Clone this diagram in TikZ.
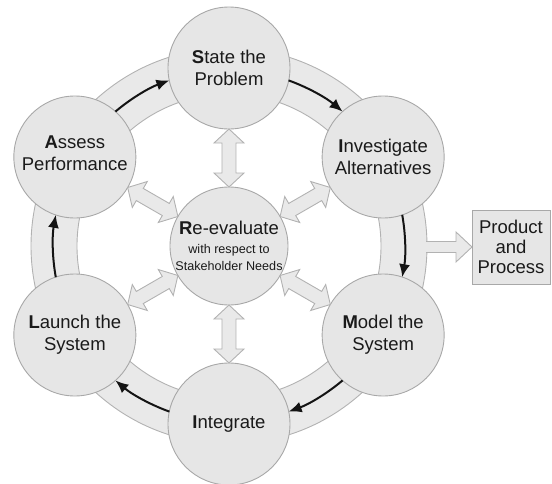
\documentclass[tikz,border=0pt]{standalone}
\usepackage{fontspec}
\setmainfont{Liberation Sans}
\usetikzlibrary{arrows.meta}
\definecolor{cfill}{HTML}{E6E6E6}
\definecolor{cline}{HTML}{A8A8A8}
\definecolor{afill}{HTML}{E9E9E9}
\definecolor{aline}{HTML}{B2B2B2}
\definecolor{txt}{HTML}{1A1A1A}
\begin{document}
\begin{tikzpicture}[x=1pt,y=1pt,
  stage/.style={circle, draw=cline, line width=0.9pt, fill=cfill, minimum size=122pt,
    inner sep=0pt, align=center, text=txt, font=\fontsize{18.5}{22}\selectfont},
  hub/.style={stage, minimum size=118pt},
  ring/.style={draw=aline, line width=0.9pt, fill=afill, even odd rule},
  hollow/.style={draw=aline, line width=0.9pt, fill=afill, line join=miter},
  flow/.style={draw=black!92, line width=2pt, -{Latex[length=13pt,width=11pt]}},
  outbox/.style={rectangle, draw=cline, line width=0.9pt, fill=cfill, minimum width=78pt,
    minimum height=74pt, inner sep=0pt, align=center, text=txt, font=\fontsize{18.5}{20}\selectfont}
]
\useasboundingbox (-229,-237) rectangle (323,246);

% ring band
\path[ring] (0,0) circle (198) (0,0) circle (152);

% product output arrow
\path[hollow] (197,4.5) -- (227,4.5) -- (227,14) -- (243,-1) -- (227,-16) -- (227,-6.5) -- (197,-6.5);
\node[outbox] (prod) at (282,-1) {Product\\and\\Process};

% stages
\node[hub] (reval) at (0,0) {\textbf{R}e-evaluate\\[-3pt]
  {\fontsize{12.6}{13.5}\selectfont with respect to}\\[-5pt]
  {\fontsize{12.6}{13.5}\selectfont Stakeholder Needs}};
\node[stage] (state) at (90:178) {\textbf{S}tate the\\Problem};
\node[stage] (invest) at (30:178) {\textbf{I}nvestigate\\Alternatives};
\node[stage] (model) at (-30:178) {\textbf{M}odel the\\System};
\node[stage] (integ) at (-90:178) {\textbf{I}ntegrate};
\node[stage] (launch) at (-150:178) {\textbf{L}aunch the\\System};
\node[stage, text depth=8pt] (assess) at (150:178) {\textbf{A}ssess\\Performance};

% cycle arrows along the ring
\foreach \a in {150,90,30,-30,-90,-150}{
  \draw[flow] (\a-19.8:176) arc[start angle=\a-19.8, end angle=\a-40.2, radius=176];
}

% two-way arrows between hub and stages
\foreach \a in {90,30,-30,-90,-150,150}{
  \begin{scope}[rotate=\a]
    \path[hollow] (59,0) -- (73,15) -- (73,7) -- (103,7) -- (103,15) -- (117,0)
      -- (103,-15) -- (103,-7) -- (73,-7) -- (73,-15) -- cycle;
  \end{scope}
}
\end{tikzpicture}
\end{document}
